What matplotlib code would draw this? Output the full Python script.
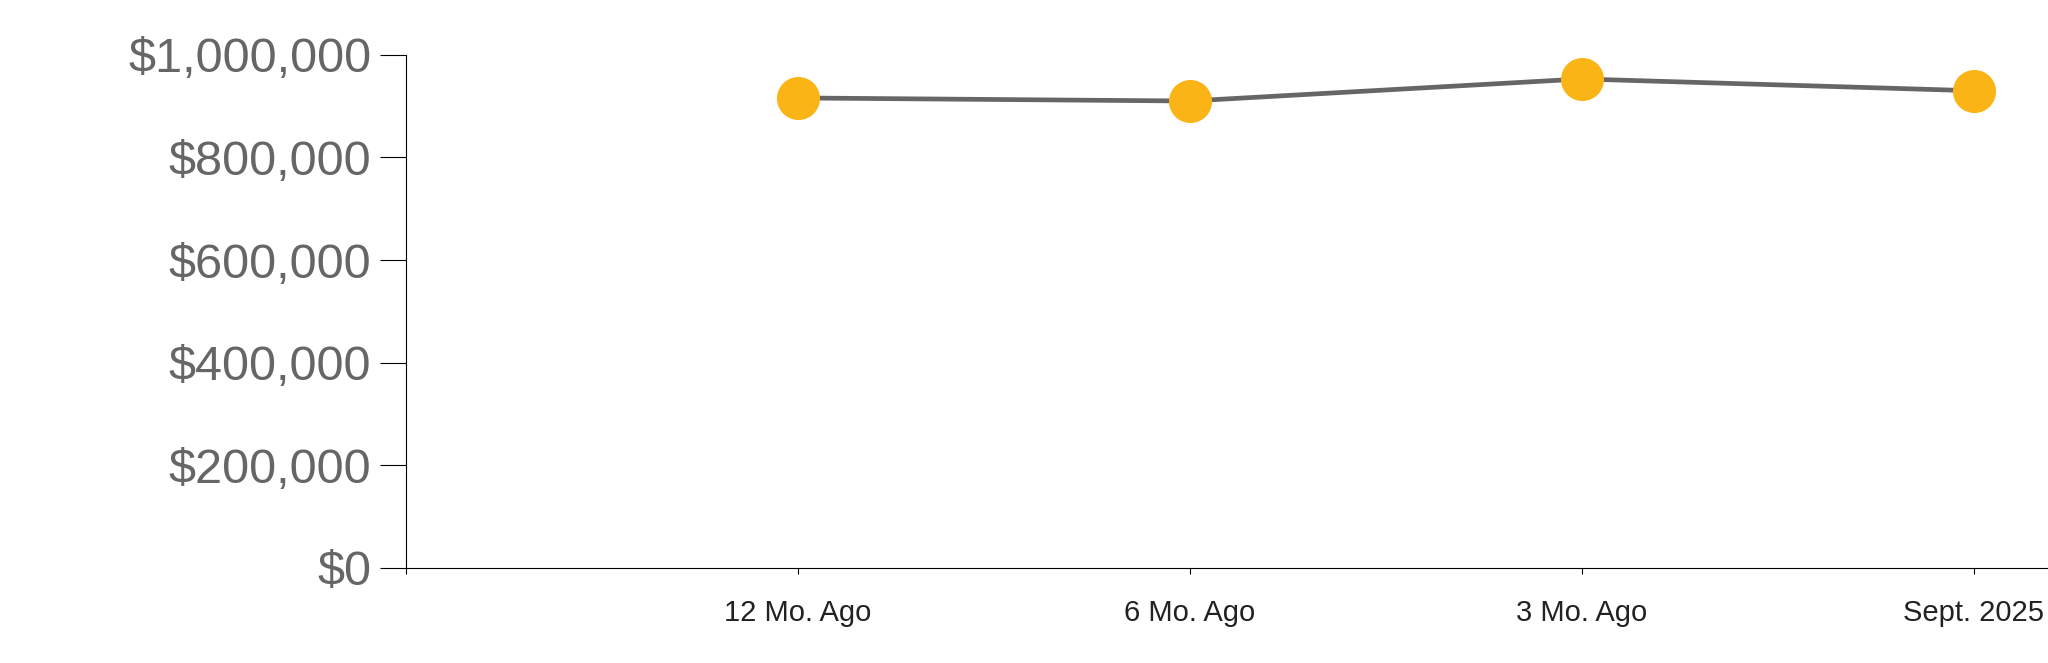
import matplotlib
matplotlib.use("Agg")
import matplotlib.pyplot as plt
from matplotlib.ticker import FuncFormatter

plt.rcParams['font.family'] = ['Liberation Sans', 'DejaVu Sans']

# values
periods = ["12 Mo. Ago", "6 Mo. Ago", "3 Mo. Ago", "Sept. 2025"]
prices = [916000, 910000, 953000, 930000]
y_ticks = [0, 200000, 400000, 600000, 800000, 1000000]

fig = plt.figure(figsize=(20.48, 6.63), dpi=100)
ax = fig.add_axes([0.198, 0.1433, 0.802, 0.774])

xs = list(range(1, len(periods) + 1))
ax.plot(xs, prices, color="#666666", linewidth=3.4, zorder=2)
ax.scatter(xs, prices, s=31 ** 2, color="#FBB416", zorder=3, linewidths=0)

ax.set_xlim(0, 4.19)
ax.set_ylim(0, 1000000)

ax.set_xticks([0] + xs)
ax.set_xticklabels([""] + periods)
ax.set_yticks(y_ticks)
ax.yaxis.set_major_formatter(FuncFormatter(lambda v, p: "${:,.0f}".format(v)))

ax.tick_params(axis="y", length=18.5, width=0.8, pad=6, labelsize=35, labelcolor="#666666")
ax.tick_params(axis="x", length=4.3, width=0.8, pad=18, labelsize=21, labelcolor="#222222")

for side in ["top", "right"]:
    ax.spines[side].set_visible(False)
for side in ["left", "bottom"]:
    ax.spines[side].set_linewidth(0.8)
    ax.spines[side].set_color("black")

fig.savefig("out.png", dpi=100)
